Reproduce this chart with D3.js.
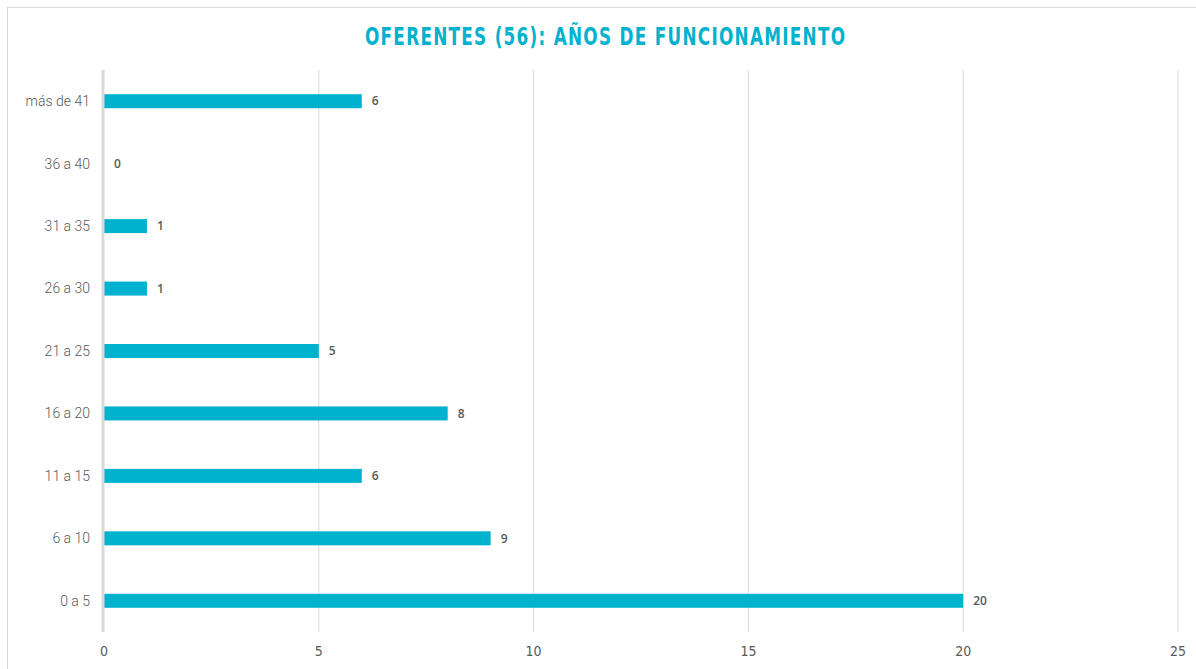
<!DOCTYPE html>
<html>
<head>
<meta charset="utf-8">
<script src="https://cdn.jsdelivr.net/npm/d3@7"></script>
<style>
  body { margin: 0; background: #fff; }
</style>
</head>
<body>
<svg id="chart" width="1196" height="669"></svg>
<script>
// categories (top to bottom) and counts
const categories = ["más de 41", "36 a 40", "31 a 35", "26 a 30", "21 a 25", "16 a 20", "11 a 15", "6 a 10", "0 a 5"];
const counts     = [6, 0, 1, 1, 5, 8, 6, 9, 20];
const xTicks     = [0, 5, 10, 15, 20, 25];
const titleText  = "OFERENTES (56): AÑOS DE FUNCIONAMIENTO";

const svg = d3.select("#chart");
const barColor = "#00B2CE";

// outer frame
svg.append("rect")
    .attr("x", 7.5).attr("y", 7.5)
    .attr("width", 1200).attr("height", 700)
    .attr("fill", "none")
    .attr("stroke", "#d9d9d9");

// plot area
const plotLeft = 104, plotRight = 1178, plotTop = 70, plotBottom = 632;

const x = d3.scaleLinear().domain([0, 25]).range([plotLeft, plotRight]);
const y = d3.scaleBand().domain(categories).range([plotTop, plotBottom]);

// title: squeeze the glyphs horizontally, then space them out to the original width
const titleSqueeze = 0.78;
svg.append("text")
    .attr("transform", `translate(365,45) scale(${titleSqueeze},1)`)
    .attr("font-family", "'Liberation Sans Narrow', 'DejaVu Sans Condensed', sans-serif")
    .attr("font-weight", "bold")
    .attr("font-size", "24px")
    .attr("textLength", 480 / titleSqueeze)
    .attr("lengthAdjust", "spacing")
    .attr("fill", barColor)
    .text(titleText);

// vertical gridlines
svg.append("g")
    .selectAll("line")
    .data(xTicks.slice(1))
    .join("line")
    .attr("x1", d => x(d)).attr("x2", d => x(d))
    .attr("y1", plotTop).attr("y2", plotBottom)
    .attr("stroke", "#d9d9d9")
    .attr("stroke-width", 1);

// x tick labels
svg.append("g")
    .selectAll("text")
    .data(xTicks)
    .join("text")
    .attr("x", d => x(d))
    .attr("y", 656)
    .attr("text-anchor", "middle")
    .attr("font-family", "'Liberation Sans Narrow', 'DejaVu Sans Condensed', sans-serif")
    .attr("font-size", "14px")
    .attr("fill", "#595959")
    .text(d => d);

// bars
const barH = 14;
svg.append("g")
    .selectAll("rect")
    .data(categories)
    .join("rect")
    .attr("x", x(0))
    .attr("y", d => y(d) + y.bandwidth() / 2 - barH / 2)
    .attr("width", (d, i) => x(counts[i]) - x(0))
    .attr("height", barH)
    .attr("fill", barColor);

// y axis line
svg.append("line")
    .attr("x1", plotLeft - 1).attr("x2", plotLeft - 1)
    .attr("y1", plotTop).attr("y2", plotBottom)
    .attr("stroke", "#d9d9d9")
    .attr("stroke-width", 3);

// category labels
svg.append("g")
    .selectAll("text")
    .data(categories)
    .join("text")
    .attr("x", 90)
    .attr("y", d => y(d) + y.bandwidth() / 2)
    .attr("dy", "0.35em")
    .attr("text-anchor", "end")
    .attr("font-family", "Roboto, 'Liberation Sans', sans-serif")
    .attr("font-weight", 300)
    .attr("font-size", "14px")
    .attr("fill", "#595959")
    .text(d => d);

// value labels
svg.append("g")
    .selectAll("text")
    .data(categories)
    .join("text")
    .attr("x", (d, i) => x(counts[i]) + 10)
    .attr("y", d => y(d) + y.bandwidth() / 2)
    .attr("dy", "0.35em")
    .attr("font-family", "'Open Sans', 'DejaVu Sans', sans-serif")
    .attr("font-weight", 600)
    .attr("font-size", "12px")
    .attr("fill", "#595959")
    .text((d, i) => counts[i]);
</script>
</body>
</html>
